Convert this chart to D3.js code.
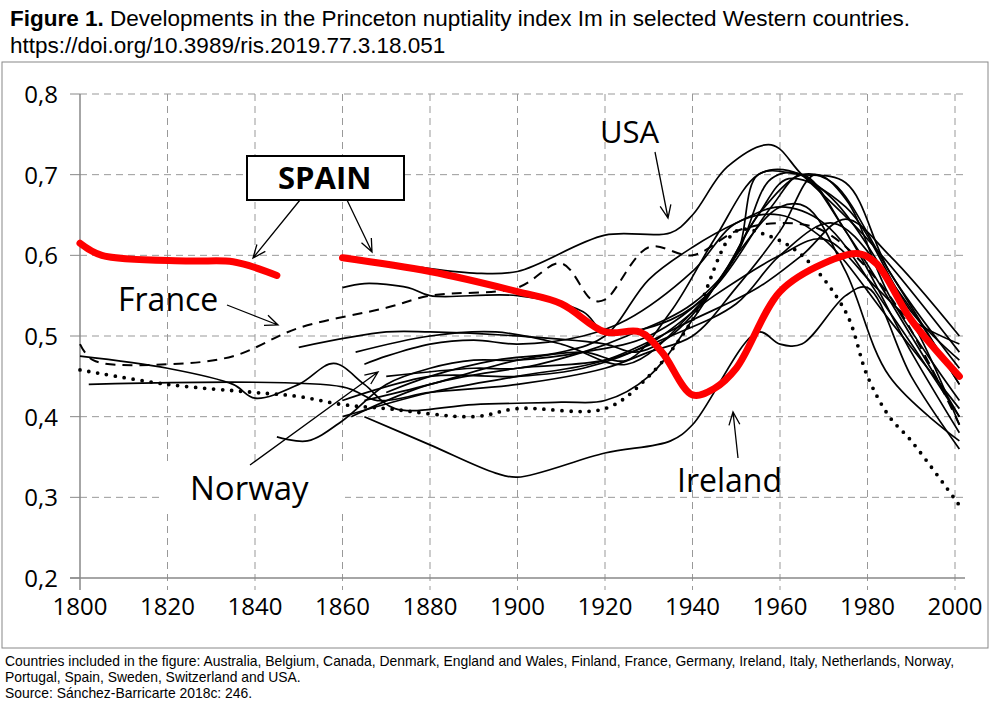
<!DOCTYPE html>
<html><head><meta charset="utf-8">
<script src="https://cdn.jsdelivr.net/npm/d3@7"></script>
<style>body{margin:0;background:#fff}svg{display:block}</style>
</head><body><div id="chart"></div>
<script>
// Princeton nuptiality index Im, countries
const years = [1800, 1820, 1840, 1860, 1880, 1900, 1920, 1940, 1960, 1980, 2000]
const yTicks = [0.2, 0.3, 0.4, 0.5, 0.6, 0.7, 0.8]

const spainA = [[1800,.615],[1805,.60],[1825,.593],[1835,.592],[1845,.575]]
const spainB = [[1860,.597],[1880,.58],[1900,.555],[1910,.54],[1920,.505],[1928,.505],[1933,.48],[1940,.427],[1945,.435],[1950,.46],[1960,.555],[1970,.59],[1978,.602],[1982,.59],[1990,.52],[2001,.45]]
const usa = [[1878,.585],[1890,.578],[1900,.58],[1920,.625],[1935,.628],[1940,.65],[1948,.71],[1958,.737],[1965,.70],[1980,.62],[2001,.48]]
const france = [[1800,.49],[1803,.47],[1820,.465],[1835,.475],[1850,.51],[1870,.535],[1880,.55],[1900,.56],[1910,.59],[1917,.545],[1920,.545],[1930,.61],[1940,.60],[1950,.63],[1960,.64],[1970,.63],[1985,.55],[2001,.39]]
const dotted = [[1800,.458],[1820,.44],[1840,.43],[1850,.425],[1860,.415],[1870,.41],[1890,.40],[1900,.41],[1920,.41],[1930,.45],[1940,.52],[1950,.63],[1957,.625],[1965,.60],[1975,.53],[1980,.45],[1985,.40],[1990,.37],[2001,.29]]
const ireland = [[1865,.40],[1880,.365],[1895,.33],[1900,.325],[1920,.355],[1935,.37],[1940,.39],[1955,.505],[1960,.49],[1965,.49],[1975,.55],[1980,.56],[1990,.45],[2001,.36]]
const sweden = [[1800,.475],[1820,.46],[1835,.44],[1840,.423],[1850,.44],[1858,.466],[1865,.44],[1872,.41],[1890,.415],[1910,.418],[1920,.42],[1930,.45],[1940,.52],[1950,.60],[1960,.66],[1966,.66],[1975,.58],[1985,.45],[2001,.37]]
const norway = [[1802,.44],[1860,.437],[1868,.42],[1880,.43],[1900,.44],[1920,.46],[1930,.48],[1940,.50],[1950,.56],[1960,.63],[1968,.70],[1975,.67],[1985,.55],[2001,.42]]
const denmark = [[1845,.375],[1852,.37],[1860,.395],[1870,.44],[1880,.46],[1890,.47],[1900,.47],[1915,.48],[1930,.50],[1945,.56],[1958,.66],[1965,.70],[1975,.63],[1990,.48],[2001,.38]]
const finland = [[1865,.465],[1870,.475],[1880,.49],[1890,.495],[1900,.49],[1915,.50],[1925,.52],[1940,.58],[1950,.64],[1960,.65],[1970,.62],[1985,.52],[2001,.41]]
const netherlands = [[1860,.56],[1865,.565],[1875,.56],[1880,.55],[1900,.55],[1915,.53],[1920,.505],[1935,.52],[1945,.56],[1955,.65],[1965,.70],[1972,.69],[1985,.58],[2001,.44]]
const belgium = [[1863,.48],[1880,.50],[1895,.505],[1910,.49],[1925,.465],[1940,.53],[1950,.60],[1958,.695],[1965,.70],[1975,.63],[1990,.50],[2001,.40]]
const england = [[1850,.486],[1870,.505],[1880,.505],[1900,.50],[1920,.49],[1927,.48],[1935,.50],[1945,.56],[1955,.65],[1962,.695],[1975,.66],[1990,.53],[2001,.47]]
const germany = [[1870,.43],[1880,.45],[1895,.47],[1910,.48],[1920,.50],[1930,.57],[1940,.61],[1950,.64],[1960,.66],[1970,.64],[1985,.53],[2001,.40]]
const italy = [[1862,.40],[1880,.44],[1900,.46],[1920,.47],[1935,.50],[1950,.54],[1960,.60],[1972,.64],[1985,.57],[2001,.44]]
const switzerland = [[1860,.42],[1880,.45],[1900,.45],[1915,.46],[1930,.49],[1945,.55],[1960,.60],[1970,.62],[1982,.56],[1990,.52],[2001,.49]]
const australia = [[1870,.45],[1890,.46],[1900,.46],[1915,.48],[1925,.50],[1940,.54],[1950,.60],[1955,.70],[1965,.70],[1975,.69],[1985,.58],[2001,.46]]
const canada = [[1865,.42],[1880,.44],[1900,.47],[1915,.48],[1925,.47],[1935,.53],[1945,.62],[1955,.70],[1962,.705],[1972,.67],[1990,.52],[2001,.39]]
const portugal = [[1860,.40],[1880,.43],[1900,.45],[1920,.47],[1940,.52],[1955,.56],[1965,.60],[1975,.645],[1985,.60],[2001,.50]]

const solids = [usa, ireland, sweden, norway, denmark, finland, netherlands, belgium, england, germany, italy, switzerland, australia, canada, portugal]

const W = 991, H = 714
const x = d3.scaleLinear().domain([1800, 2000]).range([80, 955])
const y = d3.scaleLinear().domain([0.2, 0.8]).range([578, 94])

const svg = d3.select("#chart").append("svg").attr("width", W).attr("height", H)
  .style("font-family", "Arial, 'Liberation Sans', sans-serif")

svg.append("text").attr("x", 10).attr("y", 26).attr("font-size", 22.5)
  .call(t => { t.append("tspan").attr("font-weight", "bold").text("Figure 1."); t.append("tspan").text(" Developments in the Princeton nuptiality index Im in selected Western countries.") })
svg.append("text").attr("x", 10).attr("y", 53).attr("font-size", 22.5).text("https://doi.org/10.3989/ris.2019.77.3.18.051")

svg.append("rect").attr("x", 2).attr("y", 62).attr("width", 986).attr("height", 586)
  .attr("fill", "none").attr("stroke", "#888").attr("stroke-width", 1)

// grid
svg.append("g").selectAll("line").data(yTicks.slice(1)).join("line")
  .attr("x1", 80).attr("x2", 965).attr("y1", d => y(d)).attr("y2", d => y(d))
  .attr("stroke", "#999").attr("stroke-dasharray", "7,5")
svg.append("g").selectAll("line").data(years.slice(1)).join("line")
  .attr("x1", d => x(d)).attr("x2", d => x(d)).attr("y1", y(0.8)).attr("y2", 590)
  .attr("stroke", "#999").attr("stroke-dasharray", "7,5")
svg.append("line").attr("x1", 80).attr("x2", 80).attr("y1", y(0.8)).attr("y2", 590).attr("stroke", "#888").attr("stroke-width", 1.5)
svg.append("line").attr("x1", 70).attr("x2", 965).attr("y1", 578).attr("y2", 578).attr("stroke", "#888").attr("stroke-width", 1.5)
svg.append("g").selectAll("line").data(yTicks).join("line")
  .attr("x1", 70).attr("x2", 80).attr("y1", d => y(d)).attr("y2", d => y(d)).attr("stroke", "#888")

const tickFont = "'Open Sans', Carlito, sans-serif"
svg.append("g").selectAll("text").data(yTicks).join("text")
  .attr("x", 58).attr("y", d => y(d) + 9).attr("text-anchor", "end")
  .attr("font-size", 24).attr("font-family", tickFont)
  .text(d => d3.format(".1f")(d).replace(".", ","))
svg.append("g").selectAll("text").data(years).join("text")
  .attr("x", d => x(d)).attr("y", 615).attr("text-anchor", "middle")
  .attr("font-size", 24).attr("font-family", tickFont).text(d => d)

const line = d3.line().x(d => x(d[0])).y(d => y(d[1])).curve(d3.curveCatmullRom.alpha(0.5))
const lines = svg.append("g").attr("fill", "none")
solids.forEach(s => lines.append("path").attr("d", line(s)).attr("stroke", "#000").attr("stroke-width", 1.7))
lines.append("path").attr("d", line(france)).attr("stroke", "#000").attr("stroke-width", 2).attr("stroke-dasharray", "10,7")
lines.append("path").attr("d", line(dotted)).attr("stroke", "#000").attr("stroke-width", 3.8).attr("stroke-dasharray", "0,9").attr("stroke-linecap", "round")
;[spainA, spainB].forEach(s => lines.append("path").attr("d", line(s)).attr("stroke", "#ff0000").attr("stroke-width", 7).attr("stroke-linecap", "round"))

// labels with white backgrounds
svg.append("rect").attr("x", 160).attr("y", 465).attr("width", 185).attr("height", 48).attr("fill", "#fff")
const lab = (t, px, py, size, w) => svg.append("text").attr("x", px).attr("y", py).attr("font-size", size)
  .attr("font-family", tickFont).attr("font-weight", w || "normal").text(t)
lab("Norway", 190, 500, 33)
lab("France", 118, 311, 32)
lab("USA", 600, 143, 31)
lab("Ireland", 677, 492, 32)
svg.append("rect").attr("x", 247).attr("y", 156).attr("width", 157).attr("height", 44).attr("fill", "#fff").attr("stroke", "#000").attr("stroke-width", 2)
lab("SPAIN", 278, 189, 31, "bold")

const arrow = (x1, y1, x2, y2) => {
  const a = Math.atan2(y2 - y1, x2 - x1), L = 14, s = 0.4
  svg.append("path").attr("fill", "none").attr("stroke", "#000").attr("stroke-width", 1.3)
    .attr("d", `M${x1},${y1}L${x2},${y2}M${x2 - L * Math.cos(a - s)},${y2 - L * Math.sin(a - s)}L${x2},${y2}L${x2 - L * Math.cos(a + s)},${y2 - L * Math.sin(a + s)}`)
}
arrow(300, 200, 253, 258)
arrow(347, 200, 372, 252)
arrow(227, 305, 278, 325)
arrow(250, 465, 378, 372)
arrow(655, 152, 668, 218)
arrow(738, 458, 733, 412)

const foot = ["Countries included in the figure: Australia, Belgium, Canada, Denmark, England and Wales, Finland, France, Germany, Ireland, Italy, Netherlands, Norway,",
  "Portugal, Spain, Sweden, Switzerland and USA.", "Source: Sánchez-Barricarte 2018c: 246."]
svg.append("g").selectAll("text").data(foot).join("text")
  .attr("x", 5).attr("y", (d, i) => 666 + i * 16).attr("font-size", 13.9).text(d => d)
</script></body></html>
